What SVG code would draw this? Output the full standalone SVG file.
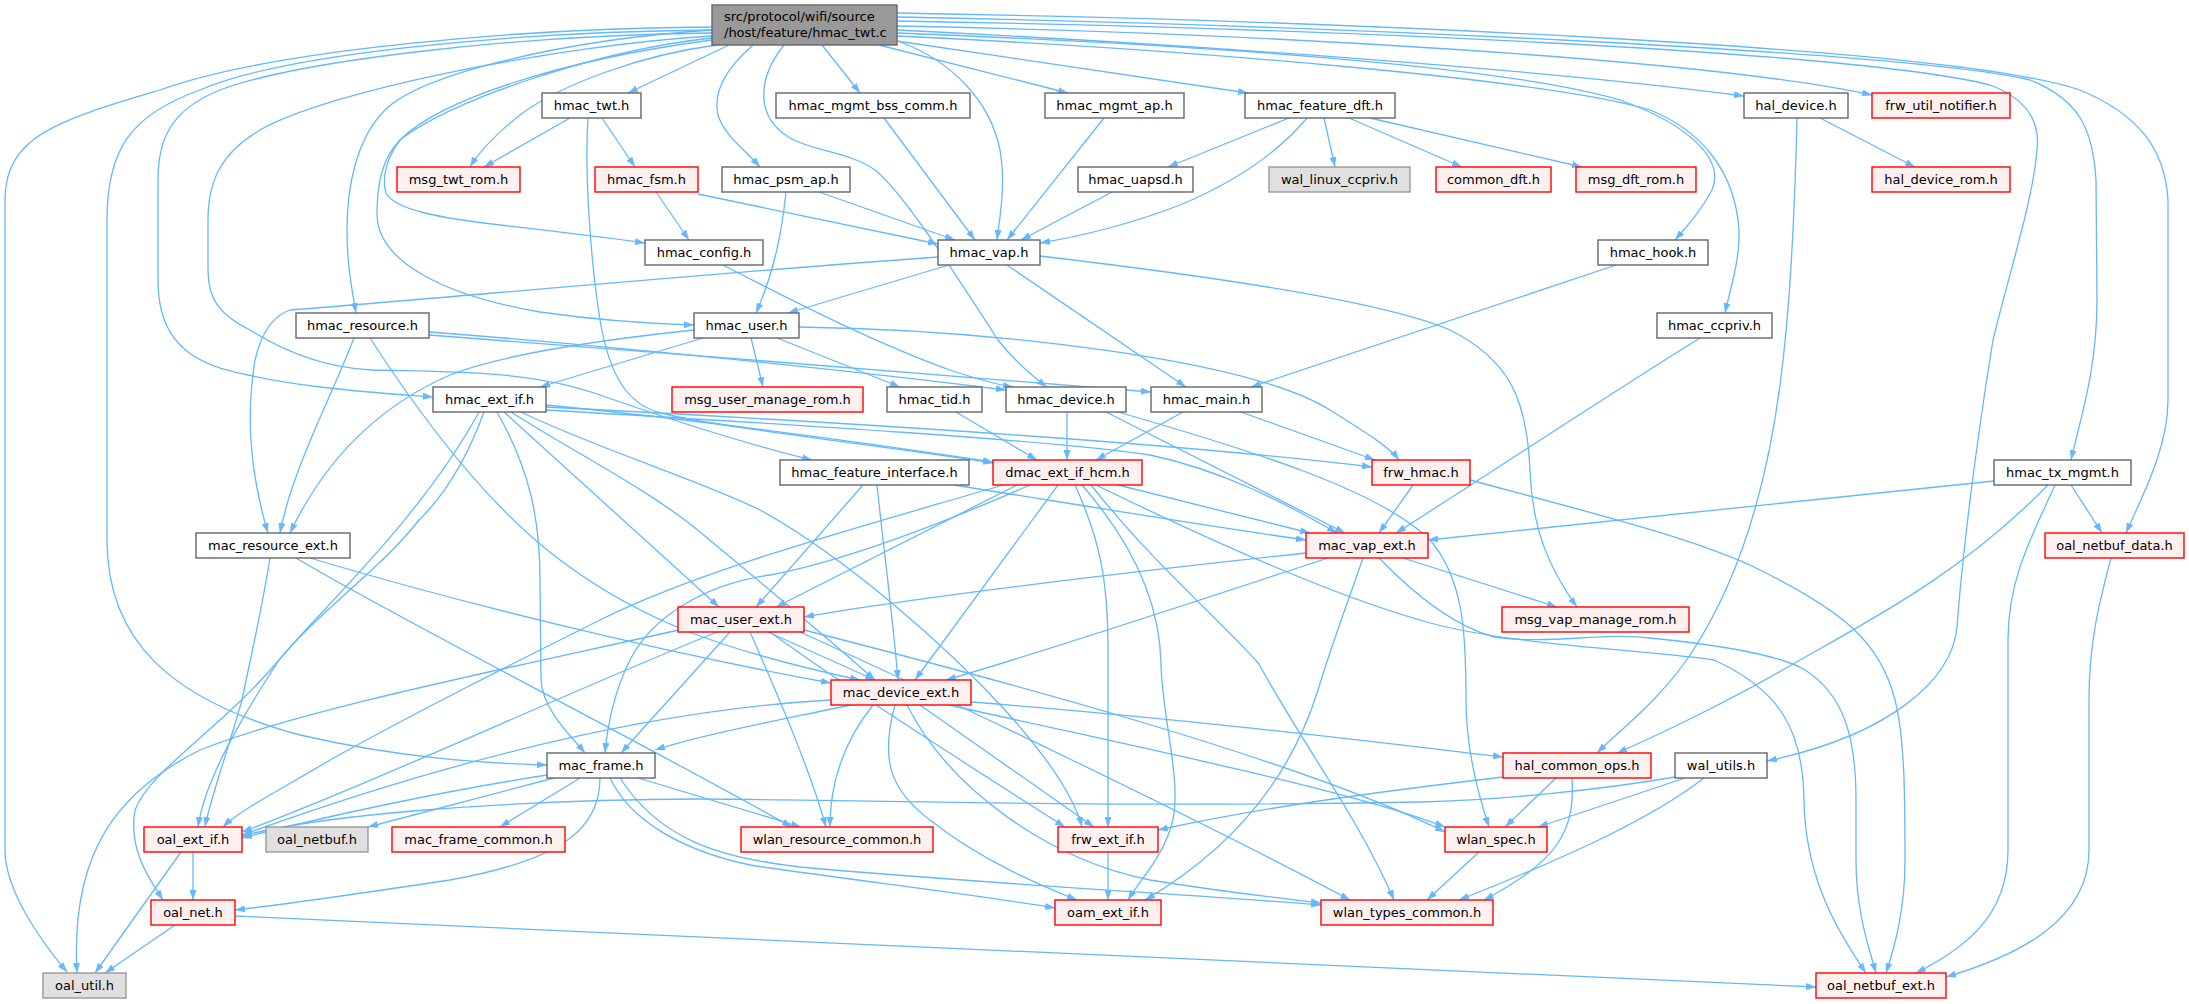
<svg xmlns="http://www.w3.org/2000/svg" width="2189" height="1004" viewBox="0 0 2189 1004">
<defs>
<marker id="ah" viewBox="0 0 10 7" refX="10" refY="3.5" markerWidth="10" markerHeight="7" markerUnits="userSpaceOnUse" orient="auto">
<path d="M0,0 L10,3.5 L0,7 z" fill="#63b8ff"/>
</marker>
<style>
.e{fill:none;stroke:#63b8ff;stroke-width:1.3;marker-end:url(#ah)}
.n rect{fill:#ffffff;stroke:#666666;stroke-width:1.4}
.r rect{fill:#fff0f0;stroke:#ff0000;stroke-width:1.4}
.g rect{fill:#e0e0e0;stroke:#999999;stroke-width:1.4}
.m rect{fill:#999999;stroke:#666666;stroke-width:1.4}
text{font-family:"DejaVu Sans","Liberation Sans",sans-serif;font-size:13px;fill:#000000}
.c{text-anchor:middle}
</style>
</defs>
<rect width="2189" height="1004" fill="#ffffff"/>
<g id="edges">
<path class="e" d="M712,27 C520,28 270,50 160,90 C60,120 5,135 5,200 L5,850 C5,890 40,940 67,972"/>
<path class="e" d="M712,30 C500,32 280,55 200,90 C130,115 107,150 107,220 L107,540 C107,640 170,700 300,735 C400,758 480,763 547,765"/>
<path class="e" d="M712,33 C520,35 300,60 220,90 C170,110 158,140 158,180 L158,280 C158,330 180,355 220,368 C290,388 380,393 433,397"/>
<path class="e" d="M712,36 C560,45 330,90 260,130 C222,152 208,180 208,220 L208,270 C208,300 220,315 250,330 C290,355 330,368 372,370 C450,372 530,370 600,395 C680,423 750,445 812,460"/>
<path class="e" d="M712,30 C560,40 420,75 385,110 C355,140 347,190 347,230 C347,265 352,290 356,313"/>
<path class="e" d="M712,38 C600,50 450,100 400,140 C380,160 377,190 377,215 C378,260 440,295 540,312 C610,322 660,324 694,325"/>
<path class="e" d="M712,40 C560,60 440,100 400,140 C385,160 382,180 386,193 C395,210 440,218 500,225 C560,232 610,238 645,243"/>
<path class="e" d="M717,45 C640,55 560,85 520,115 C495,135 480,150 470,167"/>
<path class="e" d="M729,45 L628,93"/>
<path class="e" d="M753,45 C730,65 712,90 718,115 C724,135 745,150 760,167"/>
<path class="e" d="M784,45 C760,75 752,115 790,138 C815,152 850,152 875,170 C900,190 940,250 998,340 C1015,362 1035,378 1047,387"/>
<path class="e" d="M900,42 C950,60 990,100 1000,150 C1006,185 1000,215 997,240"/>
<path class="e" d="M822,45 L860,93"/>
<path class="e" d="M879,45 L1068,93"/>
<path class="e" d="M897,41 L1248,93"/>
<path class="e" d="M897,30 C1200,45 1550,70 1744,96"/>
<path class="e" d="M897,26 C1250,33 1700,58 1872,95"/>
<path class="e" d="M897,33 C1200,45 1500,65 1620,100 C1690,125 1725,160 1712,190 C1700,212 1688,225 1675,240"/>
<path class="e" d="M897,36 C1200,50 1550,80 1650,110 C1700,130 1735,170 1739,230 C1740,260 1730,290 1725,313"/>
<path class="e" d="M897,21 C1300,28 1850,50 1990,85 C2030,100 2040,125 2037,150 C2033,200 2010,270 1993,340 C1975,450 1962,560 1957,627 C1952,680 1890,735 1767,761"/>
<path class="e" d="M897,17 C1300,25 1900,50 2030,80 C2080,100 2093,130 2096,180 L2097,300 C2097,370 2080,420 2071,460"/>
<path class="e" d="M897,13 C1300,20 1950,45 2080,90 C2140,115 2165,150 2168,200 L2168,400 C2168,450 2140,500 2126,533"/>
<path class="e" d="M570,118 L484,167"/>
<path class="e" d="M602,118 L635,167"/>
<path class="e" d="M588,118 C584,180 592,270 600,320 C610,380 630,405 661,413 C720,428 880,445 993,463"/>
<path class="e" d="M656,192 L689,240"/>
<path class="e" d="M698,194 L938,244"/>
<path class="e" d="M819,192 L955,240"/>
<path class="e" d="M786,192 C782,230 775,270 756,313"/>
<path class="e" d="M884,118 L975,240"/>
<path class="e" d="M1104,118 L1007,240"/>
<path class="e" d="M1112,192 L1021,240"/>
<path class="e" d="M1307,118 C1280,150 1240,180 1180,205 C1120,228 1070,238 1040,243"/>
<path class="e" d="M1289,118 L1168,167"/>
<path class="e" d="M1324,118 L1335,167"/>
<path class="e" d="M1349,118 L1462,167"/>
<path class="e" d="M1370,118 L1582,167"/>
<path class="e" d="M1820,118 L1915,167"/>
<path class="e" d="M1797,118 C1795,200 1790,300 1783,360 C1770,480 1740,580 1690,655 C1660,700 1620,730 1597,753"/>
<path class="e" d="M2048,485 C1960,575 1870,620 1793,664 C1740,695 1670,730 1617,753"/>
<path class="e" d="M1994,481 L1428,540"/>
<path class="e" d="M2071,485 L2102,533"/>
<path class="e" d="M2055,485 C2030,540 2008,580 2008,640 L2008,850 C2008,920 1960,950 1916,973"/>
<path class="e" d="M2111,558 C2100,600 2089,640 2089,700 L2089,850 C2089,920 2020,955 1946,977"/>
<path class="e" d="M723,265 C800,305 880,345 950,370 C980,380 1000,385 1013,387"/>
<path class="e" d="M949,265 L788,313"/>
<path class="e" d="M1007,265 L1186,387"/>
<path class="e" d="M938,257 C750,270 420,300 290,310 C275,315 262,330 255,360 C245,420 252,480 268,533"/>
<path class="e" d="M1040,256 C1200,275 1380,300 1450,330 C1510,360 1527,400 1530,470 C1532,530 1550,570 1577,607"/>
<path class="e" d="M1616,265 L1251,387"/>
<path class="e" d="M1700,338 C1600,400 1480,480 1396,533"/>
<path class="e" d="M354,338 C330,400 292,470 280,533"/>
<path class="e" d="M370,338 C410,400 480,500 560,560 C640,620 720,650 860,680"/>
<path class="e" d="M429,332 C600,345 850,370 1006,390"/>
<path class="e" d="M429,335 C650,352 950,375 1151,392"/>
<path class="e" d="M703,338 L540,387"/>
<path class="e" d="M751,338 L763,387"/>
<path class="e" d="M777,338 L900,387"/>
<path class="e" d="M799,327 C1000,330 1250,360 1330,410 C1370,435 1390,448 1399,460"/>
<path class="e" d="M694,330 C600,340 500,355 450,375 C370,410 320,470 290,533"/>
<path class="e" d="M546,405 C700,420 880,445 993,462"/>
<path class="e" d="M546,407 C800,420 1150,440 1372,467"/>
<path class="e" d="M546,410 C800,425 1050,440 1150,455 C1220,470 1280,500 1337,533"/>
<path class="e" d="M504,412 L719,607"/>
<path class="e" d="M511,412 C570,450 650,490 700,532 C770,590 830,640 875,680"/>
<path class="e" d="M521,412 C600,450 700,480 760,510 C850,560 950,650 1005,710 C1050,760 1075,800 1082,827"/>
<path class="e" d="M497,412 C530,470 540,520 540,580 L541,680 C543,710 570,735 585,753"/>
<path class="e" d="M479,412 C420,520 320,610 279,660 C240,720 205,780 198,827"/>
<path class="e" d="M484,412 C470,450 450,490 419,520 C380,570 320,610 279,660 C220,730 150,770 135,810 C128,850 150,880 163,900"/>
<path class="e" d="M1118,485 L1310,533"/>
<path class="e" d="M1017,485 L776,607"/>
<path class="e" d="M1058,485 L915,680"/>
<path class="e" d="M1030,485 C950,520 850,560 770,575 C700,585 650,620 630,660 C615,690 608,720 605,753"/>
<path class="e" d="M1003,485 C850,530 700,570 600,620 C500,670 420,710 330,760 C280,790 240,810 223,827"/>
<path class="e" d="M1075,485 C1100,540 1108,580 1108,650 L1108,827"/>
<path class="e" d="M1082,485 C1130,540 1160,600 1161,664 C1162,720 1185,790 1170,830 C1160,860 1140,880 1128,900"/>
<path class="e" d="M1091,485 C1150,560 1220,620 1259,664 C1300,740 1360,820 1394,900"/>
<path class="e" d="M1096,485 C1250,560 1350,600 1420,620 C1500,645 1650,650 1714,660 C1780,690 1803,730 1804,800 C1805,880 1840,935 1866,973"/>
<path class="e" d="M1379,558 C1410,590 1450,625 1494,637 C1550,645 1600,632 1650,638 C1720,645 1780,655 1805,670 C1845,695 1856,740 1856,800 L1856,860 C1856,910 1868,945 1876,973"/>
<path class="e" d="M1470,480 C1600,515 1700,540 1760,570 C1840,610 1880,640 1895,700 C1905,740 1905,800 1905,860 C1905,910 1895,945 1886,973"/>
<path class="e" d="M1306,553 C1100,575 900,600 804,617"/>
<path class="e" d="M1328,558 C1200,600 1050,650 946,680"/>
<path class="e" d="M1363,558 C1345,610 1330,650 1318,690 C1290,780 1230,850 1145,900"/>
<path class="e" d="M1403,558 L1557,607"/>
<path class="e" d="M1413,485 L1379,533"/>
<path class="e" d="M1241,412 L1375,460"/>
<path class="e" d="M1183,412 L1096,460"/>
<path class="e" d="M1067,412 L1067,460"/>
<path class="e" d="M1106,412 C1200,460 1280,500 1345,533"/>
<path class="e" d="M1118,412 C1250,450 1380,490 1430,540 C1465,580 1466,640 1466,700 C1466,750 1480,800 1489,827"/>
<path class="e" d="M956,412 L1037,460"/>
<path class="e" d="M954,485 C1080,505 1200,525 1306,540"/>
<path class="e" d="M863,485 L756,607"/>
<path class="e" d="M877,485 C885,560 893,620 898,680"/>
<path class="e" d="M270,558 C260,620 250,660 242,700 C225,760 210,800 205,827"/>
<path class="e" d="M296,558 C400,620 600,720 792,827"/>
<path class="e" d="M310,558 C450,600 650,650 831,683"/>
<path class="e" d="M768,632 L875,680"/>
<path class="e" d="M679,630 C500,670 300,710 200,750 C120,790 70,850 77,973"/>
<path class="e" d="M717,632 C550,700 380,780 242,832"/>
<path class="e" d="M730,632 L621,753"/>
<path class="e" d="M750,632 C780,700 810,770 826,827"/>
<path class="e" d="M770,632 C850,690 960,760 1065,827"/>
<path class="e" d="M804,630 C1000,680 1300,760 1445,832"/>
<path class="e" d="M800,632 C950,700 1200,820 1350,900"/>
<path class="e" d="M851,705 C780,720 700,735 655,750"/>
<path class="e" d="M831,700 C650,710 450,760 242,835"/>
<path class="e" d="M873,705 C845,740 830,780 830,827"/>
<path class="e" d="M895,705 C880,760 890,790 930,820 C980,860 1040,885 1077,900"/>
<path class="e" d="M907,705 C950,790 1050,860 1150,880 C1230,893 1280,898 1321,903"/>
<path class="e" d="M920,705 L1094,827"/>
<path class="e" d="M949,705 C1150,750 1350,790 1445,827"/>
<path class="e" d="M971,702 C1200,720 1400,745 1503,757"/>
<path class="e" d="M547,775 C450,790 330,815 242,838"/>
<path class="e" d="M554,778 L368,827"/>
<path class="e" d="M580,778 L500,827"/>
<path class="e" d="M600,778 C600,830 560,860 450,880 C350,895 280,905 235,910"/>
<path class="e" d="M638,778 L801,827"/>
<path class="e" d="M610,778 C630,820 680,850 750,865 C850,880 980,895 1055,908"/>
<path class="e" d="M620,778 C660,840 720,858 800,867 C1000,885 1200,895 1321,905"/>
<path class="e" d="M1108,852 L1108,900"/>
<path class="e" d="M1503,777 C1350,795 1250,810 1158,830"/>
<path class="e" d="M1556,778 L1505,827"/>
<path class="e" d="M1572,778 C1575,830 1560,860 1484,900"/>
<path class="e" d="M1675,777 C1600,790 1500,800 1420,802 C1100,808 900,800 700,799 C500,800 320,815 242,836"/>
<path class="e" d="M1685,778 L1538,827"/>
<path class="e" d="M1704,778 C1650,820 1560,860 1459,900"/>
<path class="e" d="M1479,852 L1427,900"/>
<path class="e" d="M193,852 L193,900"/>
<path class="e" d="M181,852 L95,973"/>
<path class="e" d="M175,925 L105,973"/>
<path class="e" d="M235,916 C700,940 1400,965 1816,987"/>
</g>
<g id="nodes">
<g id="n_main" class="m"><rect x="712" y="5" width="185" height="40"/><text x="724" y="21">src/protocol/wifi/source</text><text x="724" y="37">/host/feature/hmac_twt.c</text></g>
<g id="n_hmac_twt" class="n"><rect x="542" y="93" width="99" height="25"/><text class="c" x="591.5" y="110">hmac_twt.h</text></g>
<g id="n_hmac_mgmt_bss_comm" class="n"><rect x="776" y="93" width="194" height="25"/><text class="c" x="873" y="110">hmac_mgmt_bss_comm.h</text></g>
<g id="n_hmac_mgmt_ap" class="n"><rect x="1045" y="93" width="139" height="25"/><text class="c" x="1114.5" y="110">hmac_mgmt_ap.h</text></g>
<g id="n_hmac_feature_dft" class="n"><rect x="1245" y="93" width="150" height="25"/><text class="c" x="1320" y="110">hmac_feature_dft.h</text></g>
<g id="n_hal_device" class="n"><rect x="1744" y="93" width="104" height="25"/><text class="c" x="1796" y="110">hal_device.h</text></g>
<g id="n_frw_util_notifier" class="r"><rect x="1872" y="93" width="138" height="25"/><text class="c" x="1941" y="110">frw_util_notifier.h</text></g>
<g id="n_msg_twt_rom" class="r"><rect x="397" y="167" width="123" height="25"/><text class="c" x="458.5" y="184">msg_twt_rom.h</text></g>
<g id="n_hmac_fsm" class="r"><rect x="595" y="167" width="103" height="25"/><text class="c" x="646.5" y="184">hmac_fsm.h</text></g>
<g id="n_hmac_psm_ap" class="n"><rect x="722" y="167" width="128" height="25"/><text class="c" x="786" y="184">hmac_psm_ap.h</text></g>
<g id="n_hmac_uapsd" class="n"><rect x="1078" y="167" width="115" height="25"/><text class="c" x="1135.5" y="184">hmac_uapsd.h</text></g>
<g id="n_wal_linux_ccpriv" class="g"><rect x="1269" y="167" width="141" height="25"/><text class="c" x="1339.5" y="184">wal_linux_ccpriv.h</text></g>
<g id="n_common_dft" class="r"><rect x="1436" y="167" width="115" height="25"/><text class="c" x="1493.5" y="184">common_dft.h</text></g>
<g id="n_msg_dft_rom" class="r"><rect x="1576" y="167" width="120" height="25"/><text class="c" x="1636" y="184">msg_dft_rom.h</text></g>
<g id="n_hal_device_rom" class="r"><rect x="1872" y="167" width="138" height="25"/><text class="c" x="1941" y="184">hal_device_rom.h</text></g>
<g id="n_hmac_config" class="n"><rect x="645" y="240" width="118" height="25"/><text class="c" x="704" y="257">hmac_config.h</text></g>
<g id="n_hmac_vap" class="n"><rect x="938" y="240" width="102" height="25"/><text class="c" x="989" y="257">hmac_vap.h</text></g>
<g id="n_hmac_hook" class="n"><rect x="1598" y="240" width="110" height="25"/><text class="c" x="1653" y="257">hmac_hook.h</text></g>
<g id="n_hmac_resource" class="n"><rect x="296" y="313" width="133" height="25"/><text class="c" x="362.5" y="330">hmac_resource.h</text></g>
<g id="n_hmac_user" class="n"><rect x="694" y="313" width="105" height="25"/><text class="c" x="746.5" y="330">hmac_user.h</text></g>
<g id="n_hmac_ccpriv" class="n"><rect x="1657" y="313" width="115" height="25"/><text class="c" x="1714.5" y="330">hmac_ccpriv.h</text></g>
<g id="n_hmac_ext_if" class="n"><rect x="433" y="387" width="113" height="25"/><text class="c" x="489.5" y="404">hmac_ext_if.h</text></g>
<g id="n_msg_user_manage_rom" class="r"><rect x="672" y="387" width="191" height="25"/><text class="c" x="767.5" y="404">msg_user_manage_rom.h</text></g>
<g id="n_hmac_tid" class="n"><rect x="887" y="387" width="95" height="25"/><text class="c" x="934.5" y="404">hmac_tid.h</text></g>
<g id="n_hmac_device" class="n"><rect x="1006" y="387" width="120" height="25"/><text class="c" x="1066" y="404">hmac_device.h</text></g>
<g id="n_hmac_main" class="n"><rect x="1151" y="387" width="111" height="25"/><text class="c" x="1206.5" y="404">hmac_main.h</text></g>
<g id="n_hmac_feature_interface" class="n"><rect x="780" y="460" width="189" height="25"/><text class="c" x="874.5" y="477">hmac_feature_interface.h</text></g>
<g id="n_dmac_ext_if_hcm" class="r"><rect x="993" y="460" width="149" height="25"/><text class="c" x="1067.5" y="477">dmac_ext_if_hcm.h</text></g>
<g id="n_frw_hmac" class="r"><rect x="1372" y="460" width="98" height="25"/><text class="c" x="1421" y="477">frw_hmac.h</text></g>
<g id="n_hmac_tx_mgmt" class="n"><rect x="1994" y="460" width="137" height="25"/><text class="c" x="2062.5" y="477">hmac_tx_mgmt.h</text></g>
<g id="n_mac_resource_ext" class="n"><rect x="196" y="533" width="154" height="25"/><text class="c" x="273" y="550">mac_resource_ext.h</text></g>
<g id="n_mac_vap_ext" class="r"><rect x="1306" y="533" width="122" height="25"/><text class="c" x="1367" y="550">mac_vap_ext.h</text></g>
<g id="n_oal_netbuf_data" class="r"><rect x="2045" y="533" width="139" height="25"/><text class="c" x="2114.5" y="550">oal_netbuf_data.h</text></g>
<g id="n_mac_user_ext" class="r"><rect x="678" y="607" width="126" height="25"/><text class="c" x="741" y="624">mac_user_ext.h</text></g>
<g id="n_msg_vap_manage_rom" class="r"><rect x="1502" y="607" width="187" height="25"/><text class="c" x="1595.5" y="624">msg_vap_manage_rom.h</text></g>
<g id="n_mac_device_ext" class="r"><rect x="831" y="680" width="140" height="25"/><text class="c" x="901" y="697">mac_device_ext.h</text></g>
<g id="n_mac_frame" class="n"><rect x="547" y="753" width="108" height="25"/><text class="c" x="601" y="770">mac_frame.h</text></g>
<g id="n_hal_common_ops" class="r"><rect x="1503" y="753" width="148" height="25"/><text class="c" x="1577" y="770">hal_common_ops.h</text></g>
<g id="n_wal_utils" class="n"><rect x="1675" y="753" width="92" height="25"/><text class="c" x="1721" y="770">wal_utils.h</text></g>
<g id="n_oal_ext_if" class="r"><rect x="144" y="827" width="98" height="25"/><text class="c" x="193" y="844">oal_ext_if.h</text></g>
<g id="n_oal_netbuf" class="g"><rect x="266" y="827" width="102" height="25"/><text class="c" x="317" y="844">oal_netbuf.h</text></g>
<g id="n_mac_frame_common" class="r"><rect x="392" y="827" width="173" height="25"/><text class="c" x="478.5" y="844">mac_frame_common.h</text></g>
<g id="n_wlan_resource_common" class="r"><rect x="741" y="827" width="192" height="25"/><text class="c" x="837" y="844">wlan_resource_common.h</text></g>
<g id="n_frw_ext_if" class="r"><rect x="1058" y="827" width="100" height="25"/><text class="c" x="1108" y="844">frw_ext_if.h</text></g>
<g id="n_wlan_spec" class="r"><rect x="1445" y="827" width="102" height="25"/><text class="c" x="1496" y="844">wlan_spec.h</text></g>
<g id="n_oal_net" class="r"><rect x="151" y="900" width="84" height="25"/><text class="c" x="193" y="917">oal_net.h</text></g>
<g id="n_oam_ext_if" class="r"><rect x="1055" y="900" width="106" height="25"/><text class="c" x="1108" y="917">oam_ext_if.h</text></g>
<g id="n_wlan_types_common" class="r"><rect x="1321" y="900" width="172" height="25"/><text class="c" x="1407" y="917">wlan_types_common.h</text></g>
<g id="n_oal_util" class="g"><rect x="43" y="973" width="83" height="25"/><text class="c" x="84.5" y="990">oal_util.h</text></g>
<g id="n_oal_netbuf_ext" class="r"><rect x="1816" y="973" width="130" height="25"/><text class="c" x="1881" y="990">oal_netbuf_ext.h</text></g>
</g>
</svg>
